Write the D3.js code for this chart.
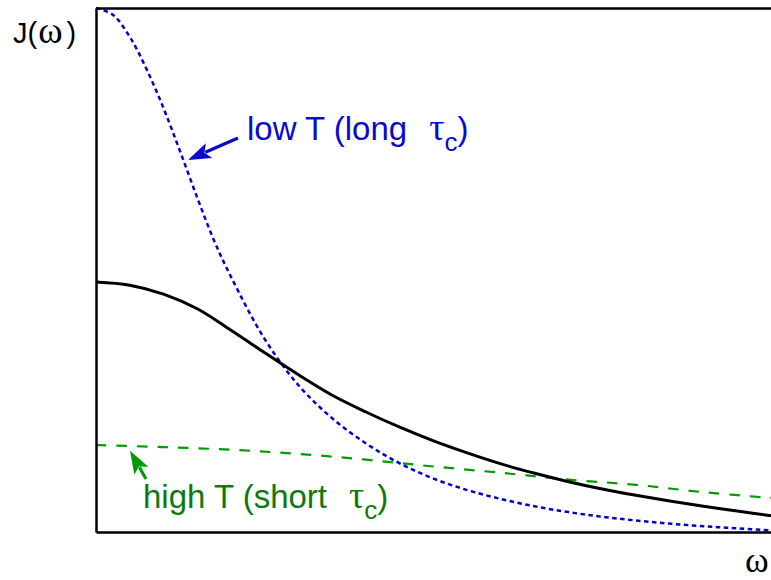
<!DOCTYPE html>
<html>
<head>
<meta charset="utf-8">
<script src="https://cdn.jsdelivr.net/npm/d3@7"></script>
<style>
  html, body { margin: 0; padding: 0; background: #fff; }
  svg { display: block; }
  .sans { font-family: "Liberation Sans", Arial, Helvetica, sans-serif; }
  .serif { font-family: "Liberation Serif", "Times New Roman", serif; }
</style>
</head>
<body>
<svg id="chart" width="771" height="580"></svg>
<script>
// Spectral density J(ω) at three temperatures (arbitrary units, J normalised to the low-T maximum)

// Intermediate temperature (solid black)
const omegaMid = [0, 0.5, 1, 1.5, 2, 2.5, 3, 3.5, 4, 4.5, 5, 5.5, 6, 6.5, 7, 7.5, 8, 8.5, 9, 9.5, 10];
const jMid = [0.477, 0.471, 0.454, 0.426, 0.385, 0.342, 0.300, 0.261, 0.229, 0.200, 0.174,
              0.151, 0.130, 0.112, 0.096, 0.082, 0.070, 0.059, 0.049, 0.040, 0.031];

// Low temperature, long correlation time (blue dotted)
const omegaLowT = [0, 0.25, 0.5, 0.75, 1, 1.25, 1.5, 1.75, 2, 2.5, 3, 3.5, 4, 4.5, 5, 5.5, 6,
                   6.5, 7, 7.5, 8, 8.5, 9, 9.5, 10];
const jLowT = [1.000, 0.987, 0.945, 0.883, 0.809, 0.725, 0.638, 0.556, 0.487, 0.368, 0.280,
               0.217, 0.169, 0.131, 0.102, 0.080, 0.063, 0.049, 0.038, 0.029, 0.022, 0.016,
               0.011, 0.007, 0.003];

// High temperature, short correlation time (green dashed)
const omegaHighT = [0, 1, 2, 3, 4, 5, 6, 7, 8, 9, 10];
const jHighT = [0.166, 0.162, 0.157, 0.149, 0.138, 0.125, 0.113, 0.100, 0.090, 0.076, 0.065];

// Annotation labels and arrow anchors, in (ω, J) units
const labelLowT = { text: "low T (long", tau: "τ", sub: "c", close: ")", at: [2.237, 0.748] };
const arrowLowT = { from: [2.104, 0.752], to: [1.363, 0.710] };
const labelHighT = { text: "high T (short", tau: "τ", sub: "c", close: ")", at: [0.696, 0.046] };
const arrowHighT = { from: [0.741, 0.101], to: [0.504, 0.155] };

const blueLine = "#0000cc", blueText = "#0a0acc";
const greenLine = "#009a00", greenText = "#0b7a0b";

const svg = d3.select("#chart");
const x = d3.scaleLinear().domain([0, 10]).range([96, 771]);
const y = d3.scaleLinear().domain([0, 1]).range([532, 8]);

const line = d3.line()
  .x(d => x(d[0]))
  .y(d => y(d[1]))
  .curve(d3.curveCatmullRom.alpha(0.5));

const plot = svg.append("g");

plot.append("path")
  .datum(d3.zip(omegaHighT, jHighT))
  .attr("d", line)
  .attr("fill", "none")
  .attr("stroke", greenLine)
  .attr("stroke-width", 2.2)
  .attr("stroke-dasharray", "10.5,10");

plot.append("path")
  .datum(d3.zip(omegaLowT, jLowT))
  .attr("d", line)
  .attr("fill", "none")
  .attr("stroke", blueLine)
  .attr("stroke-width", 2.5)
  .attr("stroke-dasharray", "4.5,3.5");

plot.append("path")
  .datum(d3.zip(omegaMid, jMid))
  .attr("d", line)
  .attr("fill", "none")
  .attr("stroke", "#000")
  .attr("stroke-width", 3);

// Frame: left, top and bottom edges
function frame(g) {
  g.select(".domain").attr("stroke", "#000").attr("stroke-width", 2.5);
}
svg.append("g").attr("transform", `translate(${x(0)},0)`)
  .call(d3.axisLeft(y).tickValues([]).tickSizeOuter(0)).call(frame);
svg.append("g").attr("transform", `translate(0,${y(1)})`)
  .call(d3.axisTop(x).tickValues([]).tickSizeOuter(0)).call(frame);
svg.append("g").attr("transform", `translate(0,${y(0)})`)
  .call(d3.axisBottom(x).tickValues([]).tickSizeOuter(0)).call(frame);

// Arrows with filled heads
function arrow(a, color) {
  const x1 = x(a.from[0]), y1 = y(a.from[1]);
  const x2 = x(a.to[0]), y2 = y(a.to[1]);
  const ang = Math.atan2(y2 - y1, x2 - x1);
  const len = 23, half = 8;
  const bx = x2 - len * Math.cos(ang), by = y2 - len * Math.sin(ang);
  const nx = -Math.sin(ang), ny = Math.cos(ang);
  svg.append("line")
    .attr("x1", x1).attr("y1", y1).attr("x2", bx + 4 * Math.cos(ang)).attr("y2", by + 4 * Math.sin(ang))
    .attr("stroke", color).attr("stroke-width", 3.2);
  const head = d3.path();
  head.moveTo(x2, y2);
  head.lineTo(bx + half * nx, by + half * ny);
  head.lineTo(bx + 5 * Math.cos(ang), by + 5 * Math.sin(ang));
  head.lineTo(bx - half * nx, by - half * ny);
  head.closePath();
  svg.append("path").attr("d", head.toString()).attr("fill", color);
}
arrow(arrowLowT, blueText);
arrow(arrowHighT, greenLine);

// Curve labels
function label(l, color) {
  const t = svg.append("text")
    .attr("x", x(l.at[0])).attr("y", y(l.at[1]))
    .attr("fill", color)
    .attr("class", "sans")
    .style("font-size", "33px");
  t.append("tspan").text(l.text);
  t.append("tspan").attr("dx", 22).attr("class", "serif").style("font-size", "38px").text(l.tau);
  t.append("tspan").attr("dy", 11).style("font-size", "26px").text(l.sub);
  t.append("tspan").attr("dy", -11).text(l.close);
}
label(labelLowT, blueText);
label(labelHighT, greenText);

// Axis titles
const yTitle = svg.append("text").attr("x", 13).attr("y", 43)
  .attr("class", "sans").style("font-size", "29px").attr("fill", "#000");
yTitle.append("tspan").text("J(");
yTitle.append("tspan").attr("dx", 1).attr("class", "serif").style("font-size", "37px").text("ω");
yTitle.append("tspan").attr("dx", 4).text(")");

svg.append("text").attr("x", 745).attr("y", 572)
  .attr("class", "serif").style("font-size", "36px").attr("fill", "#000")
  .text("ω");
</script>
</body>
</html>
